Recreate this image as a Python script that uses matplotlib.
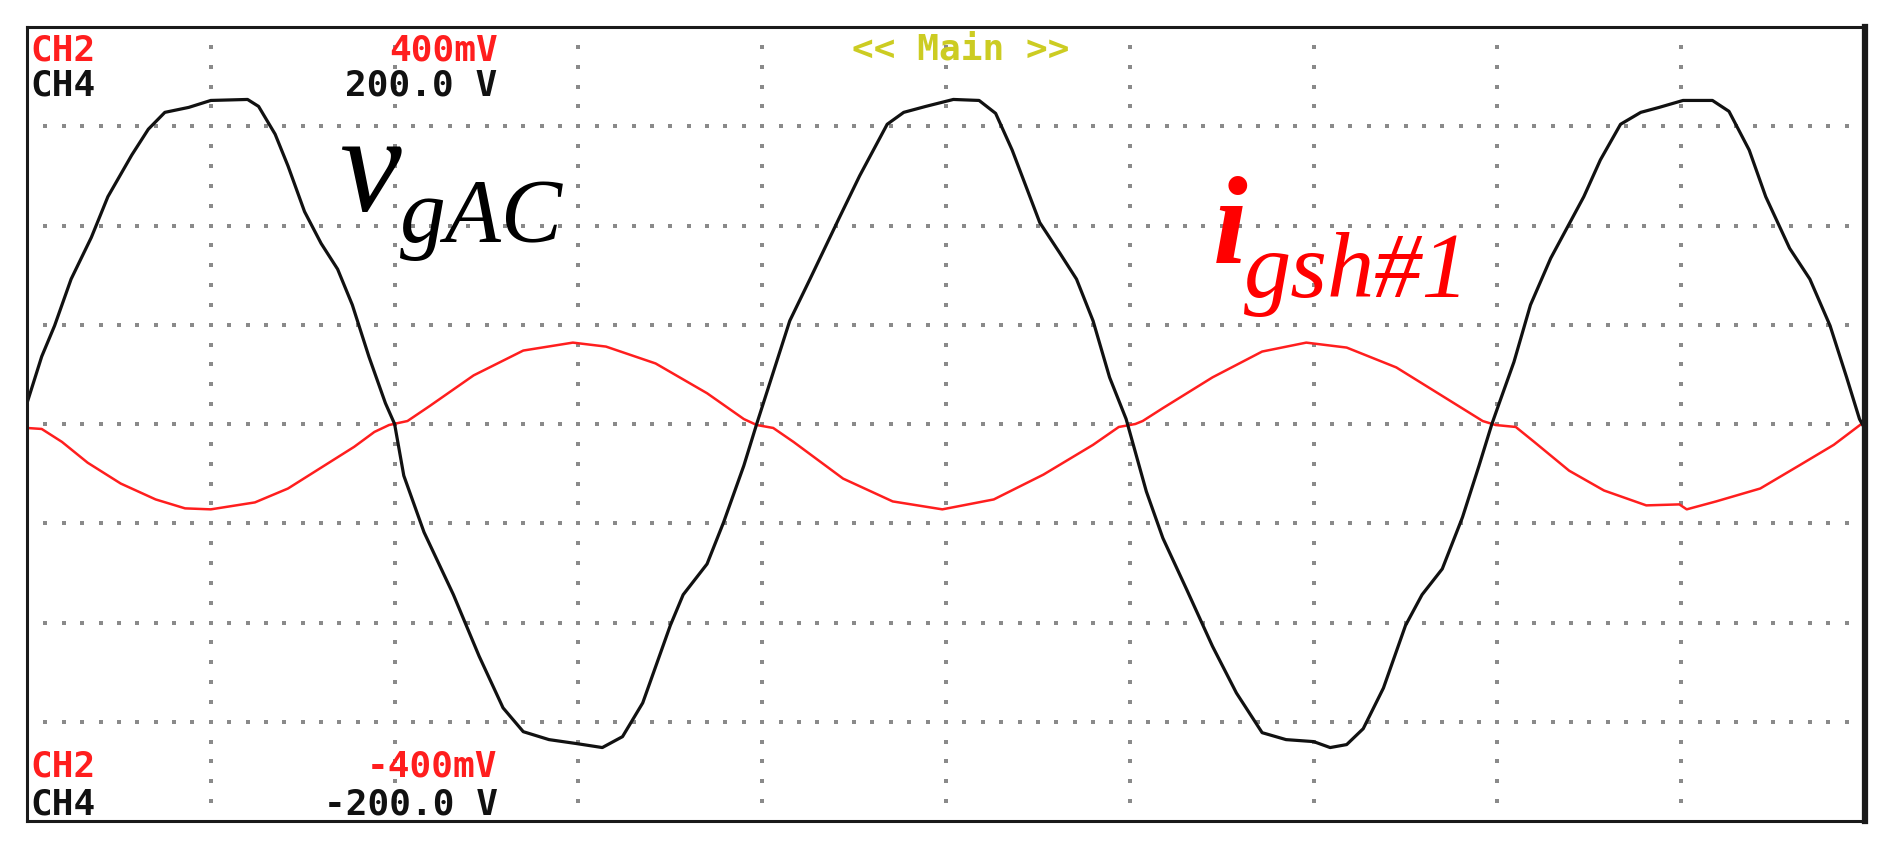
import matplotlib
matplotlib.use("Agg")
import matplotlib.pyplot as plt
import numpy as np

# screen units are divisions: x 0..10, y -4..4
# CH4 (v_gAC, black)
black_x = [0.00, 0.08, 0.15, 0.24, 0.35, 0.44, 0.57, 0.66, 0.75, 0.88, 1.00, 1.20, 1.26, 1.35,
           1.42, 1.51, 1.60, 1.69, 1.77, 1.86, 1.95, 2.00,
           2.05, 2.16, 2.32, 2.46, 2.59, 2.70, 2.84, 2.99, 3.13, 3.24, 3.35, 3.50, 3.57, 3.70,
           3.79, 3.90, 3.97,
           4.06, 4.15, 4.26, 4.42, 4.53, 4.68, 4.77, 4.89, 5.04, 5.18, 5.27, 5.36, 5.51, 5.62,
           5.71, 5.80, 5.89, 5.98,
           6.09, 6.18, 6.31, 6.45, 6.58, 6.72, 6.85, 7.00, 7.09, 7.18, 7.27, 7.38, 7.50, 7.59,
           7.70, 7.81, 7.90, 7.97,
           8.01, 8.09, 8.18, 8.29, 8.38, 8.47, 8.56, 8.67, 8.78, 8.88, 9.01, 9.17, 9.26, 9.37,
           9.46, 9.59, 9.70, 9.81, 9.90, 9.97, 10.0]
black_y = [0.21, 0.68, 0.99, 1.46, 1.88, 2.29, 2.71, 2.97, 3.14, 3.19, 3.26, 3.27, 3.20, 2.92,
           2.60, 2.14, 1.82, 1.56, 1.20, 0.68, 0.21, 0.0,
           -0.52, -1.09, -1.72, -2.34, -2.86, -3.10, -3.18, -3.22, -3.26, -3.15, -2.81, -2.03,
           -1.72, -1.41, -0.99, -0.42, 0.0,
           0.52, 1.04, 1.46, 2.08, 2.50, 3.02, 3.14, 3.20, 3.27, 3.26, 3.13, 2.76, 2.03, 1.72,
           1.46, 1.04, 0.47, 0.05,
           -0.68, -1.15, -1.67, -2.24, -2.71, -3.11, -3.18, -3.20, -3.26, -3.23, -3.07, -2.66,
           -2.03, -1.72, -1.46, -0.94, -0.42, 0.0,
           0.21, 0.625, 1.20, 1.67, 1.98, 2.29, 2.66, 3.02, 3.14, 3.19, 3.26, 3.26, 3.15, 2.76,
           2.29, 1.77, 1.46, 0.99, 0.47, 0.05, -0.05]

# CH2 (i_gsh#1, red)
red_x = [0.00, 0.08, 0.19, 0.33, 0.51, 0.70, 0.86, 1.00, 1.24, 1.42, 1.60, 1.78, 1.89, 1.97,
         2.07, 2.19, 2.43, 2.70, 2.97, 3.15, 3.42, 3.70, 3.90, 3.97,
         4.06, 4.17, 4.44, 4.71, 4.98, 5.26, 5.53, 5.80, 5.94, 6.03,
         6.07, 6.18, 6.45, 6.72, 6.96, 7.18, 7.45, 7.72, 7.92, 7.99,
         8.10, 8.20, 8.39, 8.58, 8.81, 8.99, 9.03, 9.19, 9.43, 9.64, 9.83, 9.98]
red_y = [-0.04, -0.05, -0.18, -0.39, -0.60, -0.76, -0.85, -0.86, -0.79, -0.65, -0.44, -0.23, -0.08, -0.01,
         0.03, 0.18, 0.49, 0.74, 0.82, 0.78, 0.61, 0.31, 0.05, -0.01,
         -0.04, -0.18, -0.55, -0.78, -0.86, -0.76, -0.51, -0.21, -0.03, 0.0,
         0.03, 0.16, 0.47, 0.73, 0.82, 0.77, 0.57, 0.26, 0.03, -0.01,
         -0.03, -0.18, -0.47, -0.67, -0.82, -0.81, -0.86, -0.78, -0.65, -0.42, -0.21, 0.0]

ch_names = ["CH2", "CH4"]
top_scale = ["400mV", "200.0 V"]
bot_scale = ["-400mV", "-200.0 V"]
mode_text = "<< Main >>"

C_RED = "#FF1E1E"
C_BLK = "#111111"
C_GRID = "#8a8a8a"
C_MODE = "#CCCC22"
MONO = dict(family="DejaVu Sans Mono", weight="bold", fontsize=26, va="baseline")
SERIF = "Liberation Serif"

fig = plt.figure(figsize=(19.03, 8.51), dpi=100)
ax = fig.add_axes([27 / 1903, 30 / 851, 1838 / 1903, 794 / 851])
ax.set_xlim(0, 10)
ax.set_ylim(-4, 4)
ax.set_xticks([]); ax.set_yticks([])
for s in ax.spines.values():
    s.set_linewidth(2.2); s.set_color("#1a1a1a")
ax.spines["right"].set_linewidth(4.5)

# dotted graticule
gx = np.arange(1, 100) / 10
for yy in range(-3, 4):
    ax.plot(gx, np.full_like(gx, yy), ls="none", marker="s", ms=2.3, mew=0, color=C_GRID)
gy = np.arange(-19, 20) / 5
for xx in range(1, 10):
    ax.plot(np.full_like(gy, xx), gy, ls="none", marker="s", ms=2.3, mew=0, color=C_GRID)

ax.plot(red_x, red_y, color=C_RED, lw=1.8)
ax.plot(black_x, black_y, color=C_BLK, lw=2.3)

# scope read-outs
ax.text(0.02, 3.665, ch_names[0], color=C_RED, **MONO)
ax.text(0.02, 3.31, ch_names[1], color=C_BLK, **MONO)
ax.text(2.56, 3.665, top_scale[0], color=C_RED, ha="right", **MONO)
ax.text(2.56, 3.31, top_scale[1], color=C_BLK, ha="right", **MONO)
ax.text(0.02, -3.55, ch_names[0], color=C_RED, **MONO)
ax.text(0.02, -3.93, ch_names[1], color=C_BLK, **MONO)
ax.text(2.56, -3.55, bot_scale[0], color=C_RED, ha="right", **MONO)
ax.text(2.56, -3.93, bot_scale[1], color=C_BLK, ha="right", **MONO)
ax.text(5.08, 3.67, mode_text, color=C_MODE, ha="center", **MONO)

# trace labels
ax.text(1.70, 2.15, "v", family=SERIF, style="italic", fontsize=100, color="black", va="baseline")
ax.text(2.03, 1.83, "gAC", family=SERIF, style="italic", fontsize=66, color="black", va="baseline")
ax.text(6.45, 1.62, "i", family=SERIF, style="italic", weight="bold", fontsize=90, color="red", va="baseline")
ax.text(6.62, 1.28, "gsh#1", family=SERIF, style="italic", fontsize=68, color="red", va="baseline")

fig.savefig("out.png", dpi=100, facecolor="white")
